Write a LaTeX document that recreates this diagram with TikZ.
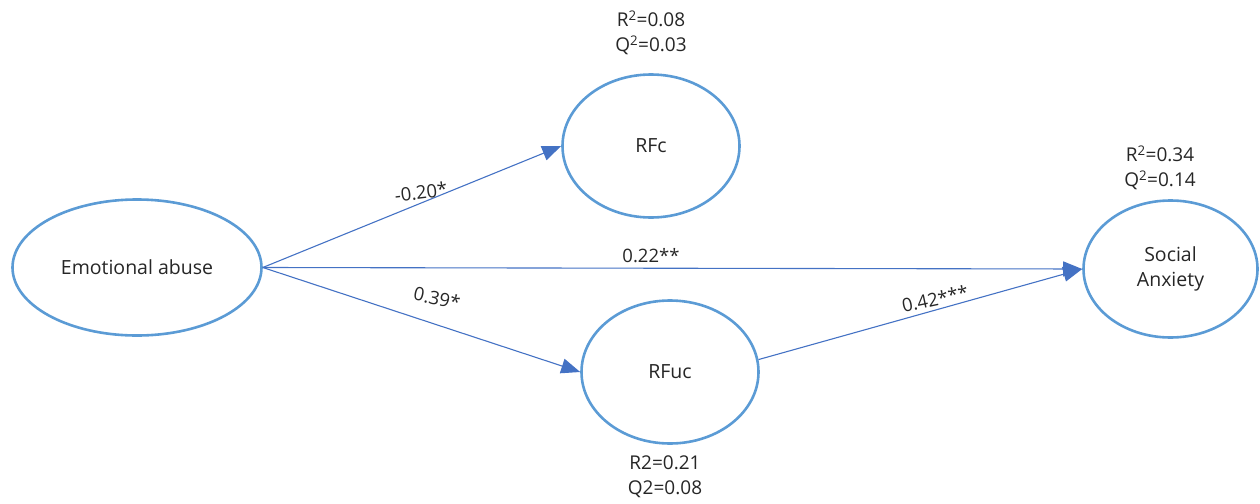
\documentclass[tikz,border=0pt]{standalone}
\usepackage{fontspec}
\setmainfont{Open Sans}
\usetikzlibrary{shapes.geometric,arrows.meta}
\definecolor{ellblue}{RGB}{91,155,213}
\definecolor{arrblue}{RGB}{68,114,196}
\definecolor{txtgray}{RGB}{38,38,38}

\begin{document}
\begin{tikzpicture}[x=1pt,y=-1pt,
  latent/.style={ellipse,draw=ellblue,line width=2.6pt,inner sep=0pt,text=txtgray,
    font=\fontsize{19.5}{25}\selectfont,align=center},
  effect/.style={draw=arrblue,line width=1.1pt,-{Triangle[length=19pt,width=15pt]}},
  coef/.style={text=txtgray,font=\fontsize{18.5}{20}\selectfont,inner sep=1pt},
  rsq/.style={text=txtgray,font=\fontsize{19}{25}\selectfont,align=center}]
  \useasboundingbox (0,0) rectangle (1260,503);
  % latent variables
  \node[latent,minimum width=249pt,minimum height=136pt] (ea) at (137,267.5) {Emotional abuse};
  \node[latent,minimum width=177pt,minimum height=143pt] (rfc) at (651,146) {RFc};
  \node[latent,minimum width=177pt,minimum height=143pt] (rfuc) at (670,372) {RFuc};
  \node[latent,minimum width=174pt,minimum height=137pt] (sa) at (1170.5,269) {Social\\Anxiety};
  % paths
  \draw[effect] (ea.east) -- (rfc.west);
  \draw[effect] (ea.east) -- (sa.west);
  \draw[effect] (ea.east) -- (rfuc.west);
  \draw[effect] (rfuc.8) -- (sa.west);
  \node[coef,rotate=7] (cEaRfc) at (421,192) {-0.20*};
  \node[coef] (cEaSa) at (651,256) {0.22**};
  \node[coef,rotate=-12] (cEaRfuc) at (437,298) {0.39*};
  \node[coef,rotate=12] (cRfucSa) at (935,299) {0.42***};
  % explained variance
  \node[rsq] (qRfc) at (651,33) {R\textsuperscript{2}=0.08\\Q\textsuperscript{2}=0.03};
  \node[rsq] (qSa) at (1160,168) {R\textsuperscript{2}=0.34\\Q\textsuperscript{2}=0.14};
  \node[rsq] (qRfuc) at (665,477) {R2=0.21\\Q2=0.08};
\end{tikzpicture}
\end{document}
